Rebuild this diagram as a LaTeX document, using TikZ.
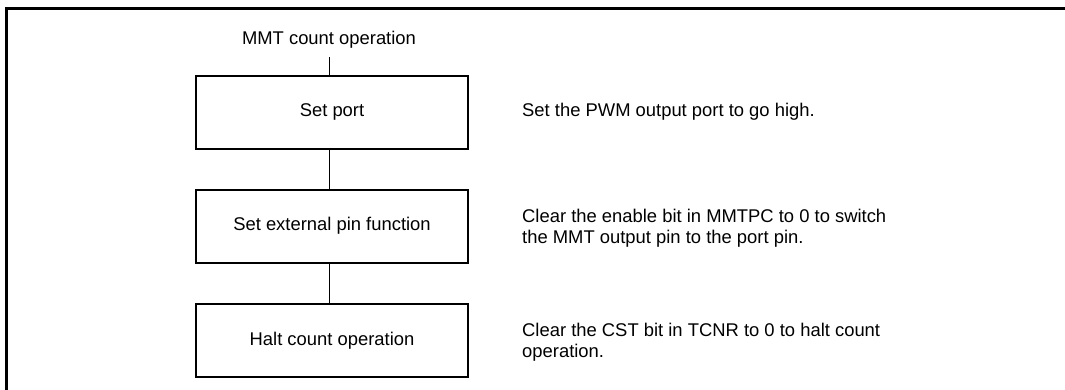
\documentclass[tikz,border=0pt]{standalone}
\usepackage{fontspec}
\setmainfont{Liberation Sans}
\begin{document}
\begin{tikzpicture}[x=1pt,y=-1pt,
  stepbox/.style={draw,line width=2pt,minimum width=272pt,minimum height=73pt,inner sep=0pt,font=\fontsize{18.4}{20.7}\selectfont},
  note/.style={anchor=west,align=left,inner sep=0pt,font=\fontsize{18.4}{20.7}\selectfont},
  conn/.style={line width=0.8pt},
  frame/.style={line width=2.2pt}]
\useasboundingbox (0,0) rectangle (1065,389);
\draw[frame] (6.5,390) -- (6.5,8.5) -- (1066,8.5);
\node[anchor=base,inner sep=0pt,font=\fontsize{18.4}{20.7}\selectfont] (title) at (329,44.3) {MMT count operation};
\node[stepbox] (b1) at (332,112) {Set port};
\node[stepbox] (b2) at (332,226) {Set external pin function};
\node[stepbox] (b3) at (332,340.5) {Halt count operation};
\coordinate (t) at (329,57);
\draw[conn] (t) -- (t |- b1.north);
\draw[conn] ([xshift=-3pt]b1.south) -- ([xshift=-3pt]b2.north);
\draw[conn] ([xshift=-3pt]b2.south) -- ([xshift=-3pt]b3.north);
\node[note] (n1) at (522,112) {Set the PWM output port to go high.};
\node[note] (n2) at (522,228) {Clear the enable bit in MMTPC to 0 to switch\\the MMT output pin to the port pin.};
\node[note] (n3) at (522,342) {Clear the CST bit in TCNR to 0 to halt count\\operation.};
\end{tikzpicture}
\end{document}
